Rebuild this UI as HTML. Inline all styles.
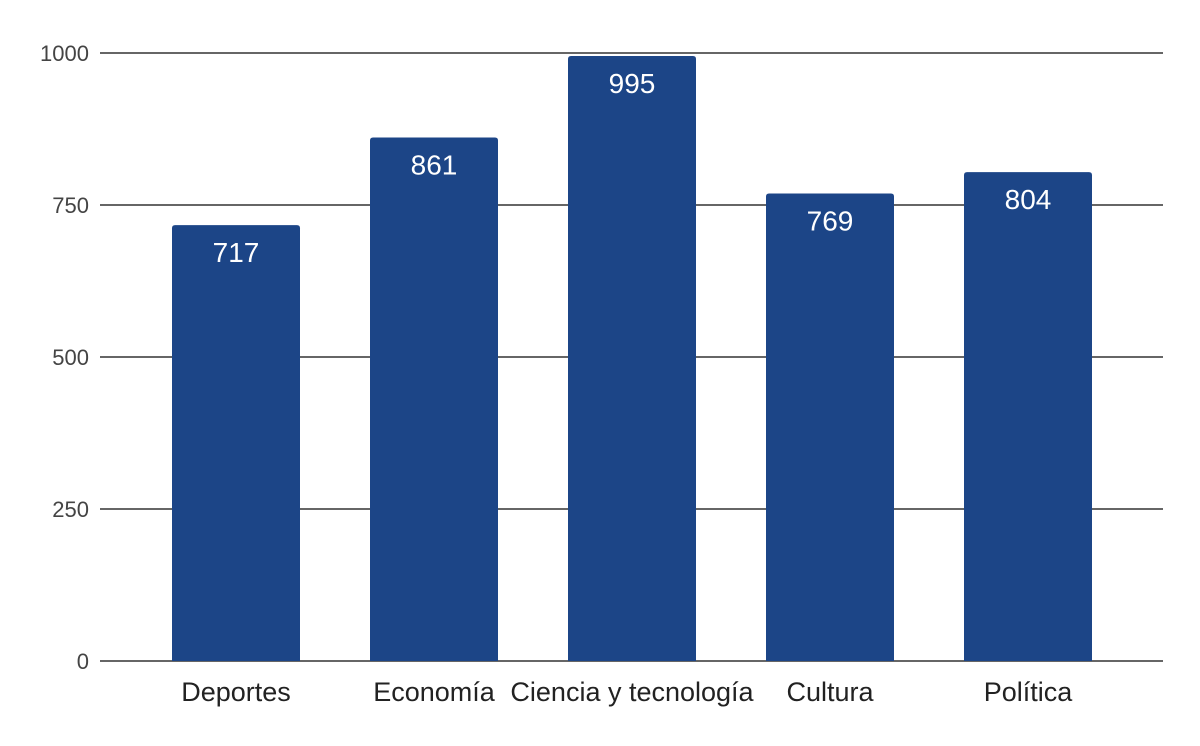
<!DOCTYPE html>
<html><head><meta charset="utf-8">
<style>
html,body{margin:0;padding:0;background:#fff;}
svg{display:block;font-family:"Liberation Sans",sans-serif;}
</style></head>
<body>
<svg id="chart" width="1200" height="746" viewBox="0 0 1200 746">
<g id="grid"></g>
<g id="bars"></g>
<g id="labels"></g>
</svg>
<script>
const categories = ["Deportes","Economía","Ciencia y tecnología","Cultura","Política"];
const values = [717,861,995,769,804];
const yTicks = [0,250,500,750,1000];
const NS="http://www.w3.org/2000/svg";
const y0=661, yTop=53, yMax=1000;
function y(v){return y0-(y0-yTop)*v/yMax;}
function xc(i){return 236+198*i;}
const barW=128;
const grid=document.getElementById('grid'), bars=document.getElementById('bars'), labels=document.getElementById('labels');
function mk(tag,attrs,parent,text){const e=document.createElementNS(NS,tag);for(const k in attrs)e.setAttribute(k,attrs[k]);if(text!==undefined)e.textContent=text;parent.appendChild(e);return e;}
yTicks.forEach(t=>{
  const l=mk('line',{x1:100,x2:1163,y1:y(t),y2:y(t),stroke:'#333','stroke-width':1.5},grid);
  
  
  const tx=mk('text',{x:89,y:y(t)+8,'text-anchor':'end','font-size':22,fill:'#444'},labels,String(t));
  
  
});
values.forEach((v,i)=>{
  const top=y(v), x=xc(i)-barW/2, r=3;
  const p=mk('path',{d:`M${x},${y0} V${top+r} Q${x},${top} ${x+r},${top} H${x+barW-r} Q${x+barW},${top} ${x+barW},${top+r} V${y0} Z`,fill:'#1c4587'},bars);
  
  
  const vl=mk('text',{x:xc(i),y:top+37,'text-anchor':'middle','font-size':28,fill:'#fff'},bars,String(v));
  
  
  const cl=mk('text',{x:xc(i),y:701,'text-anchor':'middle','font-size':27,fill:'#222'},labels,categories[i]);
  
  
});
</script>
</body></html>
